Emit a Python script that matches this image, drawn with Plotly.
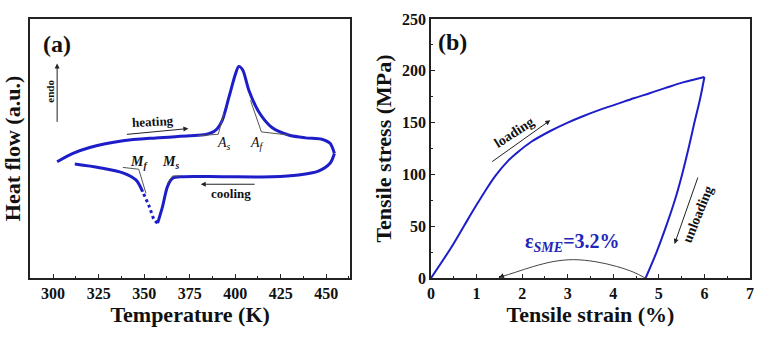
import plotly.graph_objects as go

# ---------------- Panel (a): DSC ----------------
heat_T = [302.2, 310.9, 320.1, 338.3, 356.5, 374.7, 383.8, 389.3, 392.9, 396.6, 400.2, 402.0,
          404.2, 407.5, 413.0, 420.2, 429.3, 438.5, 447.5, 452.1, 454.5]
heat_hf = [44.9, 48.1, 50.4, 53.0, 54.1, 54.9, 55.4, 57.1, 60.9, 69.9, 78.9, 81.7,
           80.2, 72.5, 64.1, 58.1, 55.2, 54.1, 53.6, 52.0, 48.1]

cool_T = [454.5, 452.1, 445.7, 434.8, 420.2, 392.9, 371.0, 365.6, 362.8, 360.1, 357.4]
cool_hf = [48.1, 44.3, 41.3, 39.8, 39.1, 39.1, 39.1, 38.5, 35.3, 27.6, 21.2]
cool_dot_T = [357.4, 355.6, 352.8, 349.2]
cool_dot_hf = [21.2, 22.4, 27.6, 33.3]
cool2_T = [349.2, 345.6, 338.3, 325.5, 311.9]
cool2_hf = [33.3, 37.8, 40.6, 42.6, 44.0]

# tangent construction lines (onset / finish)
As_T = [379.3, 390.7, 393.8]; As_hf = [54.9, 55.5, 63.5]
Af_T = [408.4, 414.4, 429.3]; Af_hf = [68.6, 56.4, 55.2]
Mf_T = [338.3, 347.0, 351.0]; Mf_hf = [42.7, 42.0, 32.7]
Ms_T = [362.8, 365.6, 369.2]; Ms_hf = [36.6, 39.4, 39.4]

a_xticks = [300, 325, 350, 375, 400, 425, 450]
a_xlabels = ["300", "325", "350", "375", "400", "425", "450"]

# ---------------- Panel (b): tensile ----------------
load_strain = [0.0, 0.436, 0.72, 0.95, 1.165, 1.42, 1.7, 1.891, 2.2, 2.617, 3.0, 3.346,
               3.7, 4.072, 4.45, 4.798, 5.15, 5.527, 5.8, 6.0]
load_stress = [0.0, 29.0, 50.0, 67.0, 82.3, 99.0, 113.5, 121.0, 131.5, 141.9, 150.0, 156.4,
               162.3, 167.8, 173.5, 178.4, 183.5, 188.8, 191.8, 194.0]
unload_strain = [6.0, 5.9, 5.78, 5.65, 5.51, 5.35, 5.16, 4.95, 4.71]
unload_stress = [194.0, 172.0, 150.0, 125.0, 100.0, 75.0, 50.0, 25.0, 0.0]

rec_strain = [4.70, 4.45, 4.07, 3.60, 3.13, 2.70, 2.255, 1.85, 1.49]
rec_stress = [0.0, 5.5, 11.2, 15.8, 17.7, 16.0, 11.2, 5.5, 0.5]

b_xticks = [0, 1, 2, 3, 4, 5, 6, 7]
b_xlabels = ["0", "1", "2", "3", "4", "5", "6", "7"]
b_yticks = [0, 50, 100, 150, 200, 250]
b_ylabels = ["0", "50", "100", "150", "200", "250"]

BLUE = "#1e1ec8"
SERIF = "Liberation Serif"
GREY = "#555555"

def bold(labels):
    return ["<b>" + s + "</b>" for s in labels]

fig = go.Figure()

# panel a traces
fig.add_trace(go.Scatter(x=heat_T, y=heat_hf, mode="lines", line=dict(color=BLUE, width=3, shape="spline", smoothing=0.8),
                         xaxis="x", yaxis="y", showlegend=False))
fig.add_trace(go.Scatter(x=cool_T, y=cool_hf, mode="lines", line=dict(color=BLUE, width=3, shape="spline", smoothing=0.8),
                         xaxis="x", yaxis="y", showlegend=False))
fig.add_trace(go.Scatter(x=cool_dot_T, y=cool_dot_hf, mode="lines", line=dict(color=BLUE, width=3, dash="dot", shape="spline"),
                         xaxis="x", yaxis="y", showlegend=False))
fig.add_trace(go.Scatter(x=cool2_T, y=cool2_hf, mode="lines", line=dict(color=BLUE, width=3, shape="spline", smoothing=0.8),
                         xaxis="x", yaxis="y", showlegend=False))
for tx, ty in [(As_T, As_hf), (Af_T, Af_hf), (Mf_T, Mf_hf), (Ms_T, Ms_hf)]:
    fig.add_trace(go.Scatter(x=tx, y=ty, mode="lines", line=dict(color=GREY, width=1),
                             xaxis="x", yaxis="y", showlegend=False))

# panel b traces
fig.add_trace(go.Scatter(x=load_strain, y=load_stress, mode="lines", line=dict(color=BLUE, width=2, shape="spline"),
                         xaxis="x2", yaxis="y2", showlegend=False))
fig.add_trace(go.Scatter(x=unload_strain, y=unload_stress, mode="lines", line=dict(color=BLUE, width=2, shape="spline"),
                         xaxis="x2", yaxis="y2", showlegend=False))
fig.add_trace(go.Scatter(x=rec_strain, y=rec_stress, mode="lines", line=dict(color="#444444", width=1, shape="spline"),
                         xaxis="x2", yaxis="y2", showlegend=False))

axis_common = dict(showgrid=False, zeroline=False, showline=True, linecolor="#222222", linewidth=1.5,
                   mirror=True, ticks="inside", tickcolor="#222222", tickwidth=1.2,
                   tickfont=dict(family=SERIF, size=16, color="#111111"),
                   title_font=dict(family=SERIF, size=22, color="#111111", weight="bold"))

fig.update_layout(
    width=760, height=340,
    margin=dict(l=30, r=6, t=19, b=62),
    paper_bgcolor="white", plot_bgcolor="white",
    xaxis=dict(axis_common, domain=[0, 0.4448], range=[287.3, 463.2], tickvals=a_xticks,
               ticktext=bold(a_xlabels), ticklen=4,
               minor=dict(dtick=12.5, tick0=287.5, ticks="inside", ticklen=2, tickcolor="#222222"),
               title=dict(text="Temperature (K)", standoff=6)),
    yaxis=dict(axis_common, domain=[0, 1], range=[0, 100], ticks="", showticklabels=False,
               title=dict(text="Heat flow (a.u.)", standoff=4)),
    xaxis2=dict(axis_common, domain=[0.557, 1], range=[0, 7], tickvals=b_xticks,
                ticktext=bold(b_xlabels), ticklen=4, anchor="y2",
                minor=dict(dtick=0.5, ticks="inside", ticklen=2, tickcolor="#222222"),
                title=dict(text="Tensile strain (%)", standoff=6)),
    yaxis2=dict(axis_common, domain=[0, 1], range=[0, 250], tickvals=b_yticks,
                ticktext=bold(b_ylabels), ticklen=4, anchor="x2",
                minor=dict(dtick=25, ticks="inside", ticklen=2, tickcolor="#222222"),
                title=dict(text="Tensile stress (MPa)", standoff=4)),
)

ann = []
def txt(x, y, text, size, xref="x", yref="y", angle=0, color="#111111", bold=True, italic=False):
    t = text
    if italic:
        t = "<i>" + t + "</i>"
    if bold:
        t = "<b>" + t + "</b>"
    ann.append(dict(x=x, y=y, xref=xref, yref=yref, text=t, showarrow=False, textangle=angle,
                    font=dict(family=SERIF, size=size, color=color)))

def arrow(x0, y0, x1, y1, xref="x", yref="y"):
    ann.append(dict(x=x1, y=y1, ax=x0, ay=y0, xref=xref, yref=yref, axref=xref, ayref=yref,
                    text="", showarrow=True, arrowhead=2, arrowsize=1, arrowwidth=1, arrowcolor="#222222"))

# panel a labels
txt(301.9, 90.5, "(a)", 24)
txt(297.8, 72.0, "endo", 11, angle=-90)
arrow(302.2, 59.7, 302.2, 82.8)
txt(354.6, 60.3, "heating", 13, angle=-3)
arrow(339.7, 55.4, 374.3, 57.7)
txt(397.5, 32.7, "cooling", 13)
arrow(411.5, 36.2, 381.1, 36.2)
txt(393.8, 51.9, "A<sub>s</sub>", 14, bold=False, italic=True)
txt(412.0, 52.0, "A<sub>f</sub>", 14, bold=False, italic=True)
txt(347.4, 44.5, "M<sub>f</sub>", 14, bold=True, italic=True)
txt(364.7, 44.5, "M<sub>s</sub>", 14, bold=True, italic=True)

# panel b labels
txt(0.47, 227.5, "(b)", 24, xref="x2", yref="y2")
txt(1.82, 140.4, "loading", 14, xref="x2", yref="y2", angle=-33)
arrow(1.309, 111.3, 2.617, 152.3, xref="x2", yref="y2")
txt(5.854, 61.3, "unloading", 14, xref="x2", yref="y2", angle=-68)
arrow(5.867, 98.4, 5.344, 32.9, xref="x2", yref="y2")
ann.append(dict(x=3.11, y=34.2, xref="x2", yref="y2", showarrow=False,
                text="<b>ε<sub><i>SME</i></sub>=3.2%</b>",
                font=dict(family=SERIF, size=20, color="#2424b8")))
ann.append(dict(x=1.49, y=0.5, ax=1.62, ay=2.8, xref="x2", yref="y2", axref="x2", ayref="y2",
                text="", showarrow=True, arrowhead=2, arrowsize=1, arrowwidth=1, arrowcolor="#222222"))

fig.update_layout(annotations=ann)
fig.write_html("out.html")
